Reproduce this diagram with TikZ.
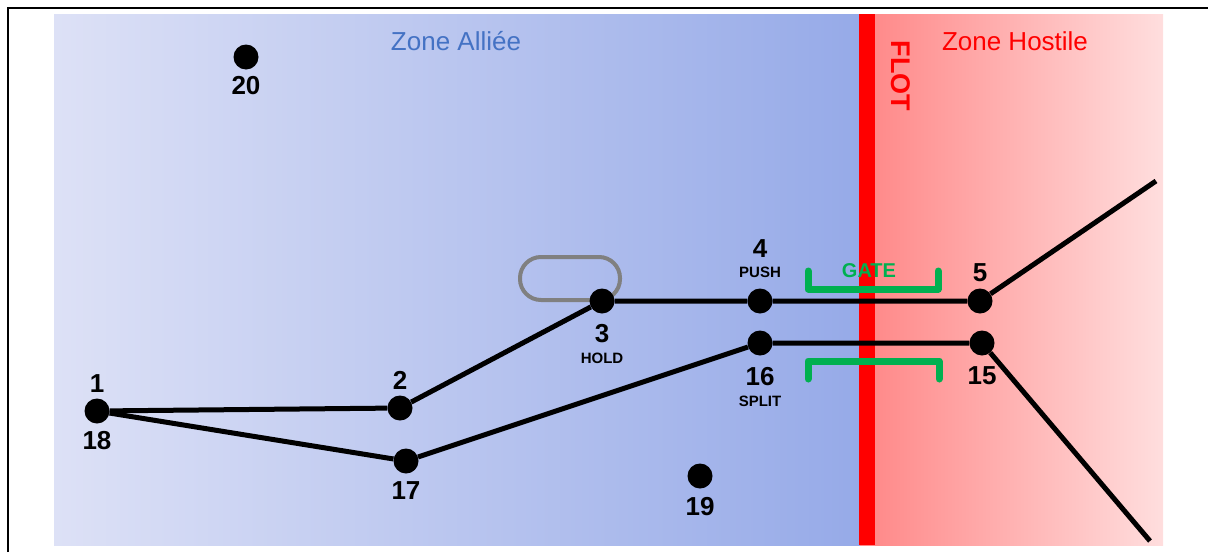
\documentclass[tikz,border=0pt]{standalone}
\usepackage{fontspec}
\setmainfont{Liberation Sans}
\usetikzlibrary{positioning}

\definecolor{allyleft}{RGB}{221,225,246}
\definecolor{allyright}{RGB}{150,170,232}
\definecolor{hostleft}{RGB}{255,134,134}
\definecolor{hostright}{RGB}{255,222,222}
\definecolor{allytext}{RGB}{68,114,196}
\definecolor{gategreen}{RGB}{0,176,80}

\begin{document}
\begin{tikzpicture}[x=1pt, y=-1pt,
    wp/.style = {circle, fill=black, inner sep=0pt, minimum size=25pt},
    num/.style = {font=\fontsize{26}{26}\selectfont\bfseries, inner sep=0pt},
    tag/.style = {font=\fontsize{15}{15}\selectfont\bfseries, inner sep=0pt},
    zone/.style = {font=\fontsize{26}{26}\selectfont, inner sep=0pt},
    route/.style = {line width=5pt},
    gate/.style = {draw=gategreen, line width=7pt, line join=round, line cap=round}]
  \useasboundingbox (0,0) rectangle (1208,552);

  % zones
  \shade[left color=allyleft, right color=allyright] (54,14) rectangle (860,545);
  \shade[left color=hostleft, right color=hostright] (860,14) rectangle (1163,545);
  \fill[red] (859,14) rectangle (875,545);
  \draw[line width=2pt] (8,552) -- (8,8) -- (1208,8);

  \node[zone, text=allytext] (ally) at (456,41) {Zone Alliée};
  \node[zone, text=red] (hostile) at (1015,41) {Zone Hostile};
  \node[font=\fontsize{27}{27}\selectfont\bfseries, text=red, inner sep=0pt, rotate=-90] (flot) at (901,76) {FLOT};

  % holding pattern
  \draw[draw=gray, line width=4pt, rounded corners=21pt] (520,257) rectangle (620,300);

  % waypoints
  \node[wp] (w1) at (97,411) {};
  \node[wp] (w2) at (400,408) {};
  \node[wp] (w3) at (602,301) {};
  \node[wp] (w4) at (760,301) {};
  \node[wp] (w5) at (980,301) {};
  \node[wp] (w15) at (982,343) {};
  \node[wp] (w16) at (760,343) {};
  \node[wp] (w17) at (406,461) {};
  \node[wp] (w19) at (700,476) {};
  \node[wp] (w20) at (246,57) {};
  \coordinate (exitn) at (1156,181);
  \coordinate (exits) at (1150,541);

  % routes
  \draw[route] (w1) -- (w2) -- (w3) -- (w4) -- (w5) -- (exitn);
  \draw[route] (w1) -- (w17) -- (w16) -- (w15) -- (exits);

  % labels
  \node[num, above=6pt of w1] (l1) {1};
  \node[num, below=7pt of w1] (l18) {18};
  \node[num, above=6pt of w2] (l2) {2};
  \node[num, below=10pt of w3] (l3) {3};
  \node[tag, below=10pt of l3] (hold) {HOLD};
  \node[tag, above=10pt of w4] (push) {PUSH};
  \node[num, above=10pt of push] (l4) {4};
  \node[num, above=6pt of w5] (l5) {5};
  \node[num, below=11pt of w16] (l16) {16};
  \node[tag, below=10pt of l16] (split) {SPLIT};
  \node[num, below=11pt of w15] (l15) {15};
  \node[num, below=8pt of w17] (l17) {17};
  \node[num, below=8pt of w19] (l19) {19};
  \node[num, below=6pt of w20] (l20) {20};

  % gate
  \draw[gate] (808,271) -- (808,289) -- (938,289) -- (938,271);
  \draw[gate] (808,379) -- (808,361) -- (939,361) -- (939,379);
  \node[font=\fontsize{20}{20}\selectfont\bfseries, text=gategreen, inner sep=0pt] (gatelbl) at (869,271) {GATE};
\end{tikzpicture}
\end{document}
